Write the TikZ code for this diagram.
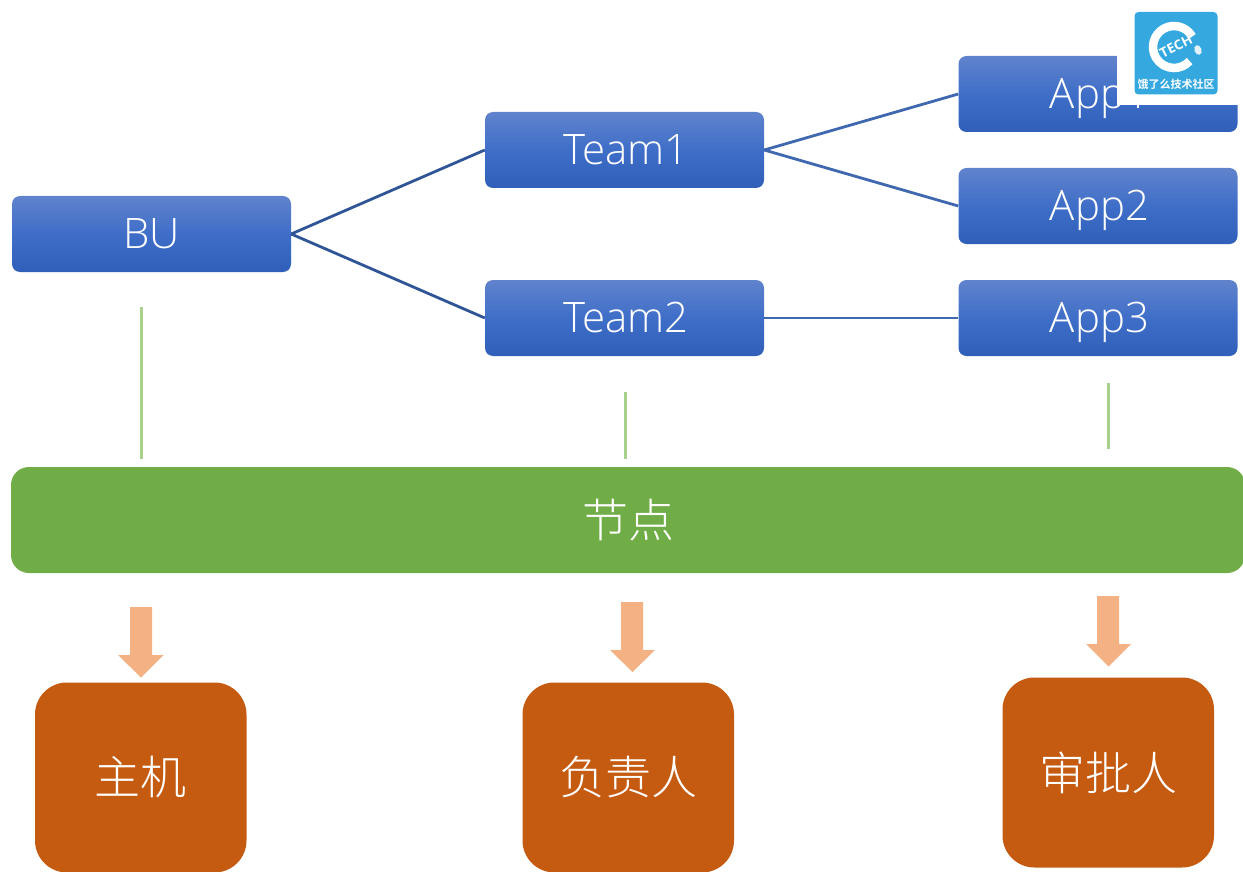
\documentclass[tikz,border=0pt]{standalone}
\usepackage{fontspec}
\setmainfont{Open Sans}[UprightFont=* Light]
\newfontfamily\cjk{Noto Sans CJK SC Light}
\newfontfamily\cjklogo{Noto Sans CJK SC}[UprightFont=* Bold]
\newfontfamily\logolat{Open Sans}[UprightFont=* Bold]
\definecolor{boxtop}{HTML}{6083CC}
\definecolor{boxmid}{HTML}{3F6EC8}
\definecolor{boxbot}{HTML}{2F5FB9}
\definecolor{linkdark}{HTML}{2F5597}
\definecolor{linkblue}{HTML}{4068B0}
\definecolor{paleline}{HTML}{A9D18E}
\definecolor{barfill}{HTML}{70AD47}
\definecolor{arrowfill}{HTML}{F4B183}
\definecolor{orangebox}{HTML}{C55A11}
\definecolor{logoblue}{HTML}{35A8E0}
\tikzset{
  bluebox/.style={rectangle,rounded corners=8pt,minimum width=279pt,minimum height=76pt,inner sep=0pt,
    top color=boxtop,bottom color=boxbot,middle color=boxmid,draw=none,text=white,
    text height=30pt,text depth=0.6pt,
    font=\fontsize{42}{42}\selectfont},
  nudged/.style={execute at begin node={\hspace*{3pt}}},
  personbox/.style={rectangle,rounded corners=32pt,minimum width=211.5pt,minimum height=190pt,inner sep=0pt,
    fill=orangebox,text=white,font=\cjk\fontsize{46}{46}\selectfont},
  bar/.style={rectangle,rounded corners=18pt,minimum width=1234pt,minimum height=106pt,inner sep=0pt,
    fill=barfill,text=white,font=\cjk\fontsize{46}{46}\selectfont},
  link/.style={line width=2.8pt,linkblue},
  linkd/.style={line width=2.8pt,linkdark},
  pale/.style={line width=3pt,paleline},
  downarrow/.style={fill=arrowfill,draw=none},
}
\begin{document}
\begin{tikzpicture}[x=1pt,y=-1pt]
\useasboundingbox (0,0) rectangle (1243,872);
\clip (0,0) rectangle (1243,872);
\node[bluebox] (bu) at (151.5,234) {BU};
\node[bluebox,nudged] (team1) at (624.5,150) {Team1};
\node[bluebox,nudged] (team2) at (624.5,318) {Team2};
\node[bluebox,nudged] (app1) at (1098,94) {App1};
\node[bluebox,nudged] (app2) at (1098,206) {App2};
\node[bluebox,nudged] (app3) at (1098,318) {App3};
\draw[linkd] (bu.east) -- (team1.west);
\draw[linkd] (bu.east) -- (team2.west);
\draw[link] (team1.east) -- (app1.west);
\draw[link] (team1.east) -- (app2.west);
\draw[link] (team2.east) -- (app3.west);
\coordinate (g1a) at (141,307); \coordinate (g1b) at (141,459);
\coordinate (g2a) at (625,392); \coordinate (g2b) at (625,459);
\coordinate (g3a) at (1108,383); \coordinate (g3b) at (1108,449);
\draw[pale] (g1a) -- (g1b);
\draw[pale] (g2a) -- (g2b);
\draw[pale] (g3a) -- (g3b);
\node[bar] (node) at (628,520) {节点};
\fill[downarrow] (130,607) -- (152,607) -- (152,655) -- (163.5,655) -- (141,677.5) -- (118,655) -- (130,655) -- cycle;
\fill[downarrow] (621,602) -- (643,602) -- (643,650) -- (655,650) -- (632.5,672) -- (610,650) -- (621,650) -- cycle;
\fill[downarrow] (1097,596) -- (1119,596) -- (1119,644) -- (1131,644) -- (1108.5,666.5) -- (1086,644) -- (1097,644) -- cycle;
\node[personbox] (host) at (140.75,777.5) {主机};
\node[personbox] (owner) at (628.25,777.5) {负责人};
\node[personbox] (approver) at (1108.25,772.5) {审批人};
\fill[white] (1117,-2) rectangle (1245,105);
\fill[logoblue,rounded corners=4pt] (1134.5,12) rectangle (1217.5,94.5);
\draw[white,line width=8.5pt] (1192.2,36.5) arc[start angle=30,end angle=318,radius=21pt];
\node[text=white,font=\logolat\fontsize{13.5}{13.5}\selectfont,rotate=27,inner sep=0pt] (tech) at (1176,46) {TECH};
\fill[white!85!logoblue,rotate around={20:(1198,50)}] (1198,50) ellipse[x radius=3.5pt,y radius=5pt];
\node[text=white,font=\cjklogo\fontsize{11}{11}\selectfont,inner sep=0pt] (logotext) at (1176,84) {饿了么技术社区};
\end{tikzpicture}
\end{document}
